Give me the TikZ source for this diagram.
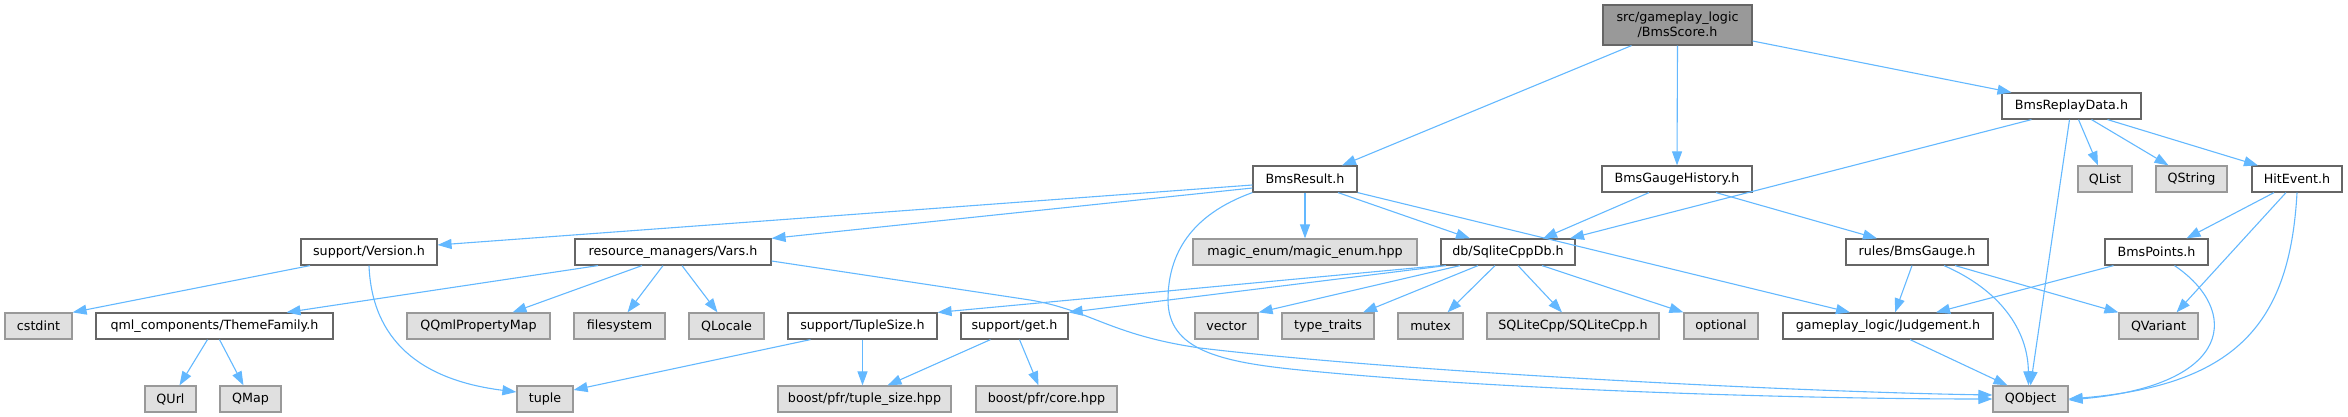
\documentclass[tikz,border=0pt]{standalone}
\usepackage{fontspec}
\setmainfont{DejaVu Sans}
\usepackage{xcolor}
\usepackage{tikz}
\usetikzlibrary{arrows.meta}
\definecolor{edgeblue}{HTML}{63B8FF}
\definecolor{boxline}{HTML}{666666}
\definecolor{extline}{HTML}{999999}
\definecolor{extfill}{HTML}{E0E0E0}

\begin{document}
\begin{tikzpicture}[x=1pt,y=-1pt,font=\fontsize{12.7}{15}\selectfont,
  hdr/.style={draw=boxline,fill=white,line width=1.2pt,minimum height=26pt,inner sep=0pt},
  sys/.style={draw=extline,fill=extfill,line width=1.2pt,minimum height=26pt,inner sep=0pt},
  dep/.style={draw=edgeblue,line width=1.1pt,-{Triangle[length=14pt,width=10pt]}}]
\useasboundingbox (0,0) rectangle (2348,417);

\node[hdr,fill=extline,minimum width=149pt,minimum height=40pt,align=center] (score) at (1677.5,25) {src/gameplay\_logic\\/BmsScore.h};

\node[hdr,minimum width=139pt] (replay) at (2071.5,106) {BmsReplayData.h};

\node[hdr,minimum width=104pt] (result) at (1305,179) {BmsResult.h};
\node[hdr,minimum width=150pt] (gaugehist) at (1677,179) {BmsGaugeHistory.h};
\node[sys,minimum width=54pt] (qlist) at (2105,179) {QList};
\node[sys,minimum width=71pt] (qstring) at (2191.5,179) {QString};
\node[hdr,minimum width=90pt] (hitevent) at (2297,179) {HitEvent.h};

\node[hdr,minimum width=136pt] (version) at (369,252) {support/Version.h};
\node[hdr,minimum width=196pt] (vars) at (673,252) {resource\_managers/Vars.h};
\node[sys,minimum width=224pt] (magicenum) at (1305,252) {magic\_enum/magic\_enum.hpp};
\node[hdr,minimum width=134pt] (sqlitedb) at (1508,252) {db/SqliteCppDb.h};
\node[hdr,minimum width=142pt] (gauge) at (1917,252) {rules/BmsGauge.h};
\node[hdr,minimum width=103pt] (points) at (2156.5,252) {BmsPoints.h};

\node[sys,minimum width=67pt] (cstdint) at (38.5,326) {cstdint};
\node[hdr,minimum width=237pt] (theme) at (214.5,326) {qml\_components/ThemeFamily.h};
\node[sys,minimum width=143pt] (qqml) at (478.5,326) {QQmlPropertyMap};
\node[sys,minimum width=91pt] (filesystem) at (619.5,326) {filesystem};
\node[sys,minimum width=75pt] (qlocale) at (726.5,326) {QLocale};
\node[hdr,minimum width=149pt] (tuplesize) at (862.5,326) {support/TupleSize.h};
\node[hdr,minimum width=107pt] (get) at (1014.5,326) {support/get.h};
\node[sys,minimum width=63pt] (vector) at (1226.5,326) {vector};
\node[sys,minimum width=92pt] (typetraits) at (1328,326) {type\_traits};
\node[sys,minimum width=65pt] (mutex) at (1430.5,326) {mutex};
\node[sys,minimum width=172pt] (sqlitecpp) at (1573,326) {SQLiteCpp/SQLiteCpp.h};
\node[sys,minimum width=74pt] (optional) at (1721,326) {optional};
\node[hdr,minimum width=210pt] (judgement) at (1888,326) {gameplay\_logic/Judgement.h};
\node[sys,minimum width=79pt] (qvariant) at (2158.5,326) {QVariant};

\node[sys,minimum width=51pt] (qurl) at (170.5,399) {QUrl};
\node[sys,minimum width=61pt] (qmap) at (250.5,399) {QMap};
\node[sys,minimum width=56pt] (tuple) at (545,399) {tuple};
\node[sys,minimum width=173pt] (pfrsize) at (864.5,399) {boost/pfr/tuple\_size.hpp};
\node[sys,minimum width=141pt] (pfrcore) at (1046.5,399) {boost/pfr/core.hpp};
\node[sys,minimum width=75pt] (qobject) at (2030.5,399) {QObject};

\draw[dep] ([xshift=-46pt]score.south) -- ([xshift=37pt]result.north);
\draw[dep] (score.south) -- (gaugehist.north);
\draw[dep] ([yshift=-16pt]score.east) -- ([xshift=-60pt]replay.north);

\draw[dep] ([xshift=-40pt]replay.south) -- ([xshift=62pt]sqlitedb.north);
\draw[dep] ([xshift=-2pt]replay.south) -- (qobject.north);
\draw[dep] ([xshift=7pt]replay.south) -- ([xshift=-7pt]qlist.north);
\draw[dep] ([xshift=20pt]replay.south) -- ([xshift=-23pt]qstring.north);
\draw[dep] ([xshift=36pt]replay.south) -- ([xshift=-39pt]hitevent.north);

\draw[dep] ([yshift=-6pt]result.west) -- ([yshift=7pt]version.east);
\draw[dep] ([yshift=-9pt]result.west) -- (vars.north east);
\draw[dep] (result.south west) .. controls (1190,215) and (1168,255) .. (1168,300)
  .. controls (1168,350) and (1220,362) .. (1300,370)
  .. controls (1500,390) and (1800,399) .. (qobject.west);
\draw[dep] (result.south) -- (magicenum.north);
\draw[dep] ([xshift=33pt]result.south) -- ([xshift=-38pt]sqlitedb.north);
\draw[dep] (result.south east) -- ([xshift=-38pt]judgement.north);

\draw[dep] ([xshift=-28pt]gaugehist.south) -- ([xshift=35pt]sqlitedb.north);
\draw[dep] ([xshift=39pt]gaugehist.south) -- ([xshift=-40pt]gauge.north);

\draw[dep] ([xshift=-23pt]hitevent.south) -- ([xshift=30pt]points.north);
\draw[dep] ([xshift=-11pt]hitevent.south) -- ([xshift=18pt]qvariant.north);
\draw[dep] (hitevent.south) .. controls (2290,320) and (2240,385) .. (qobject.east);

\draw[dep] ([xshift=-59pt]version.south) -- (cstdint.north east);
\draw[dep] (version.south) .. controls (372,340) and (420,380) .. ([yshift=7pt]tuple.west);

\draw[dep] ([xshift=-75pt]vars.south) -- ([xshift=72pt]theme.north);
\draw[dep] ([xshift=-31pt]vars.south) -- ([xshift=34pt]qqml.north);
\draw[dep] ([xshift=-10pt]vars.south) -- ([xshift=8pt]filesystem.north);
\draw[dep] ([xshift=9pt]vars.south) -- ([xshift=-9pt]qlocale.north);
\draw[dep] ([yshift=-9pt]vars.east) -- (1030,300) .. controls (1090,310) and (1110,335) .. (1200,348)
  .. controls (1400,372) and (1800,392) .. ([yshift=4pt]qobject.west);

\draw[dep] (sqlitedb.south west) -- (tuplesize.north east);
\draw[dep] ([xshift=-62pt]sqlitedb.south) -- (get.north east);
\draw[dep] ([xshift=-48pt]sqlitedb.south) -- (vector.north east);
\draw[dep] ([xshift=-30pt]sqlitedb.south) -- ([xshift=35pt]typetraits.north);
\draw[dep] ([xshift=-13pt]sqlitedb.south) -- ([xshift=17pt]mutex.north);
\draw[dep] ([xshift=10pt]sqlitedb.south) -- ([xshift=-11pt]sqlitecpp.north);
\draw[dep] ([xshift=34pt]sqlitedb.south) -- (optional.north west);

\draw[dep] ([xshift=-5pt]gauge.south) -- ([xshift=7pt]judgement.north);
\draw[dep] ([xshift=27pt]gauge.south) .. controls (2000,290) and (2028,330) .. ([xshift=-2pt]qobject.north);
\draw[dep] ([xshift=38pt]gauge.south) -- (qvariant.north west);

\draw[dep] ([xshift=-43pt]points.south) -- ([xshift=48pt]judgement.north);
\draw[dep] ([xshift=18pt]points.south) .. controls (2240,310) and (2235,385) .. ([yshift=-1pt]qobject.east);

\draw[dep] ([xshift=-7pt]theme.south) -- ([xshift=9pt]qurl.north);
\draw[dep] ([xshift=5pt]theme.south) -- ([xshift=-7pt]qmap.north);

\draw[dep] ([xshift=-52pt]tuplesize.south) -- ([yshift=9pt]tuple.east);
\draw[dep] (tuplesize.south) -- ([xshift=-2pt]pfrsize.north);
\draw[dep] ([xshift=-24pt]get.south) -- ([xshift=23pt]pfrsize.north);
\draw[dep] ([xshift=5pt]get.south) -- ([xshift=-8pt]pfrcore.north);

\draw[dep] ([xshift=22pt]judgement.south) -- ([xshift=-23pt]qobject.north);
\end{tikzpicture}
\end{document}
